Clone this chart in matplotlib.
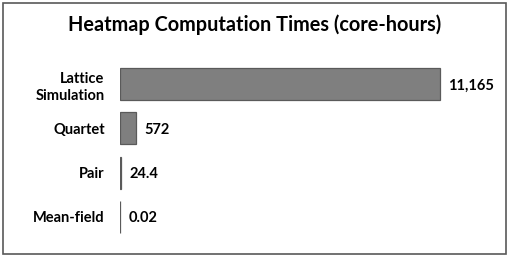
import matplotlib.pyplot as plt
from matplotlib.patches import Rectangle

plt.rcParams['font.family'] = ['Lato', 'DejaVu Sans']

methods = ["Lattice\nSimulation", "Quartet", "Pair", "Mean-field"]
hours = [11165, 572, 24.4, 0.02]
labels = ["11,165", "572", "24.4", "0.02"]

W, H = 510, 257
fig = plt.figure(figsize=(W / 100, H / 100), dpi=100)
ax = fig.add_axes([120 / W, 1 - 239 / H, 380 / W, (239 - 62) / H])

ypos = range(len(methods))
ax.barh(ypos, hours, height=0.72, color="#7f7f7f", edgecolor="#5a5a5a", linewidth=0.9)
ax.set_xlim(0, 11165 * 380 / 320)
ax.set_ylim(3.5, -0.5)
ax.set_yticks(list(ypos))
ax.set_yticklabels(methods, fontsize=10.5, fontweight="bold", ha="right", linespacing=1.35)
ax.tick_params(axis="y", length=0, pad=11)
ax.set_xticks([])
for s in ax.spines.values():
    s.set_visible(False)

for y, v, lab in zip(ypos, hours, labels):
    ax.annotate(lab, (v, y), xytext=(6, -1), textcoords="offset points",
                va="center", ha="left", fontsize=10.5, fontweight="bold")

fig.text(0.5, 1 - 25 / H, "Heatmap Computation Times (core-hours)",
         ha="center", va="center", fontsize=14.3, fontweight="bold")

fig.patches.append(Rectangle((3 / W, 3 / H), 503 / W, 251 / H, transform=fig.transFigure,
                             fill=False, edgecolor="#595959", linewidth=1.2))

fig.savefig("out.png", dpi=100)
